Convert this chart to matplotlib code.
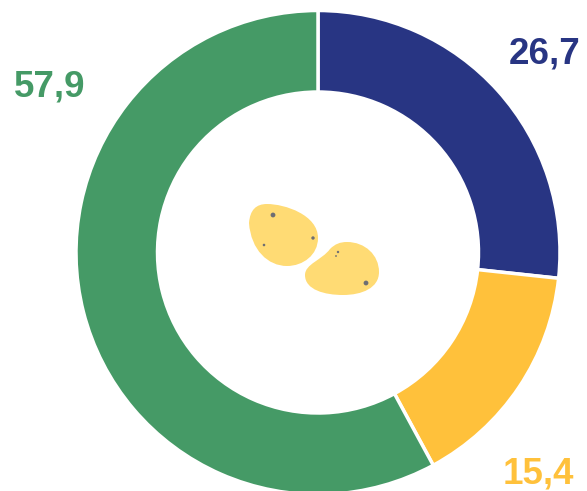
import matplotlib
matplotlib.use('Agg')
import matplotlib.pyplot as plt
from matplotlib.path import Path
from matplotlib.patches import PathPatch, Circle

plt.rcParams['font.family'] = ['Liberation Sans', 'DejaVu Sans']

labels = ['26,7', '15,4', '57,9']
values = [26.7, 15.4, 57.9]
colors = ['#283583', '#FFC13B', '#459A66']
label_pos = [(545, 54), (538, 474), (50, 87)]

W, H = 587, 491
fig = plt.figure(figsize=(W / 100, H / 100), dpi=100)
ax = fig.add_axes([0, 0, 1, 1])

# donut, drawn in pixel coords so the y axis is flipped
ax.set_ylim(H, 0)
wedges, _ = ax.pie(values, colors=colors, startangle=-90, counterclock=True,
                   center=(318, 252.5), radius=242, frame=True,
                   wedgeprops=dict(width=81.5, edgecolor='white', linewidth=2.5))
ax.set_xlim(0, W)
ax.set_ylim(H, 0)
ax.set_aspect('equal')
ax.axis('off')

for lab, pos, col in zip(labels, label_pos, colors):
    ax.text(pos[0], pos[1], lab, color=col, fontsize=26.5, fontweight='bold',
            ha='center', va='center')

# potatoes
potato1 = [(249, 223), (250, 210), (256, 204), (267, 204), (285, 204), (318, 215),
           (318, 238), (318, 255), (303, 266), (287, 266), (268, 266), (251, 250), (249, 223)]
potato2 = [(305, 275), (305, 264), (322, 260), (330, 249), (335, 244), (340, 242),
           (347, 242), (365, 242), (379, 255), (379, 272), (379, 288), (362, 295),
           (343, 295), (325, 295), (305, 290), (305, 275)]
for pts in (potato1, potato2):
    codes = [Path.MOVETO] + [Path.CURVE4] * (len(pts) - 1)
    ax.add_patch(PathPatch(Path(pts, codes), fc='#FFDB74', ec='none'))

spot_x = [273, 313, 264, 338, 336, 366]
spot_y = [215, 238, 245, 252, 256, 283]
spot_r = [2.4, 1.7, 1.3, 1.2, 0.9, 2.4]
for x, y, r in zip(spot_x, spot_y, spot_r):
    ax.add_patch(Circle((x, y), r, fc='#6E6E73', ec='none'))

fig.savefig('out.png', dpi=100)
